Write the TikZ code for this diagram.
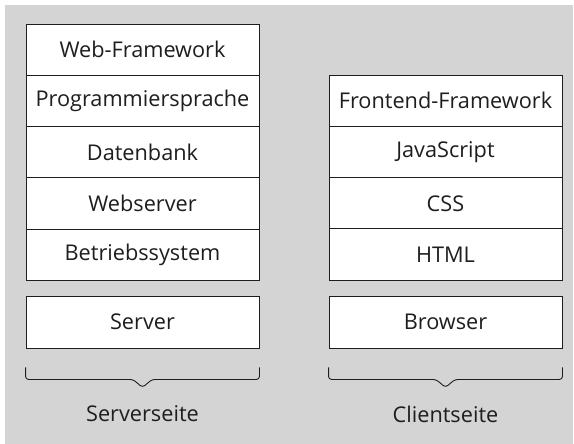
\documentclass[tikz,border=0pt]{standalone}
\usepackage{fontspec}
\setmainfont{Open Sans}
\usetikzlibrary{calc}
\definecolor{panel}{HTML}{D4D4D4}
\definecolor{ink}{HTML}{1E1E1E}
\begin{document}
\begin{tikzpicture}[x=1pt,y=-1pt,
  layer/.style={draw=ink,line width=0.9pt,fill=white,minimum width=233pt,
    minimum height=51.3pt,inner sep=0pt,font=\fontsize{21.7}{24}\selectfont,text=ink},
  basebox/.style={layer,minimum height=52pt},
  bracepath/.style={draw=ink,line width=0.9pt,rounded corners=3pt},
  sidelabel/.style={font=\fontsize{21.7}{24}\selectfont,text=ink}]
  % page and grey panel
  \useasboundingbox (0,0) rectangle (574,444);
  \fill[panel] (5,5) rectangle (573,444);

  % server-side stack
  \node[layer] (webfw) at (142.5,49.65) {Web-Framework};
  \node[layer] (lang) at (142.5,100.95) {Programmiersprache};
  \node[layer] (db) at (142.5,152.25) {Datenbank};
  \node[layer] (websrv) at (142.5,203.55) {Webserver};
  \node[layer] (os) at (142.5,254.85) {Betriebssystem};
  \node[basebox] (server) at (142.5,322) {Server};

  % client-side stack
  \node[layer] (fefw) at (445.5,100.65) {Frontend-Framework};
  \node[layer] (js) at (445.5,151.95) {JavaScript};
  \node[layer] (css) at (445.5,203.25) {CSS};
  \node[layer] (html) at (445.5,254.55) {HTML};
  \node[basebox] (browser) at (445.5,322) {Browser};

  % braces under the base boxes
  \foreach \b in {server,browser}{
    \draw[bracepath]
      ($(\b.south west)+(0,19)$) -- ($(\b.south west)+(0,31)$)
      -- ($(\b.south)+(-9.5,31)$) -- ($(\b.south)+(0,39)$)
      -- ($(\b.south)+(9.5,31)$) -- ($(\b.south east)+(0,31)$)
      -- ($(\b.south east)+(0,19)$);
  }
  \node[sidelabel] (srvside) at (142.5,414) {Serverseite};
  \node[sidelabel] (cliside) at (445.5,414) {Clientseite};
\end{tikzpicture}
\end{document}
